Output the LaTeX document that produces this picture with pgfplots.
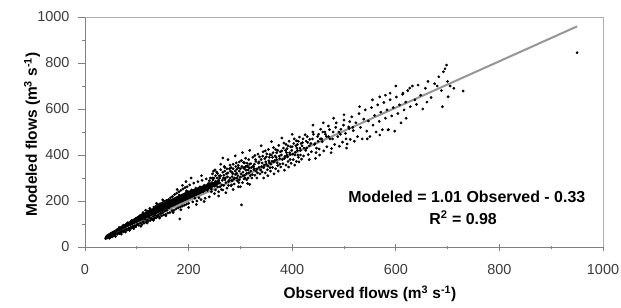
\documentclass[border=0pt]{standalone}
\usepackage{pgfplots}
\pgfplotsset{compat=1.18}
\usepackage{pgfplotstable}
\usepackage{fontspec}
\setmainfont{Liberation Sans}
\definecolor{ticktext}{RGB}{60,60,60}
\definecolor{axisgray}{RGB}{128,128,128}
\definecolor{framegray}{RGB}{175,175,175}
\definecolor{linegray}{RGB}{150,150,150}

\pgfplotstableread{
x y
40 36
42 47
43 40
45 52
46 44
47 38
48 55
50 49
51 60
52 44
53 57
55 48
56 63
57 52
58 66
59 46
60 58
41 42
44 50
49 42
54 64
58 55
61 70
62 55
63 77
64 62
65 74
66 58
67 82
68 66
69 78
70 61
71 88
72 70
73 83
74 66
75 92
76 73
77 86
78 70
79 97
80 78
81 100
82 74
83 94
84 80
85 104
86 78
87 98
88 84
89 110
90 82
91 102
92 90
93 114
94 86
95 106
96 92
97 118
98 88
99 110
100 96
66 85
74 95
82 105
90 115
98 124
70 56
78 65
86 72
94 80
101 124
102 100
103 130
104 94
105 118
106 136
107 104
108 126
109 140
110 98
111 132
112 110
113 146
114 104
115 138
116 120
117 160
118 108
119 142
120 118
121 156
122 112
123 148
124 128
125 168
126 116
127 150
128 124
129 162
130 120
131 156
132 132
133 174
134 124
135 160
136 138
137 178
138 128
139 166
140 134
141 184
142 140
143 170
144 130
145 188
146 146
147 176
148 136
149 192
150 150
151 172
152 140
153 198
154 156
155 184
156 142
157 202
158 160
159 180
160 148
112 150
125 160
138 190
150 205
108 90
120 104
132 116
144 126
156 136
142 158
128 142
183 122
161 206
162 170
163 192
164 150
165 214
166 178
167 196
168 158
169 220
170 182
171 200
172 160
173 228
174 186
175 206
176 166
177 234
178 192
179 212
180 170
181 240
182 198
183 216
184 174
185 246
186 202
187 224
188 178
189 252
190 206
191 228
192 182
193 258
194 212
195 236
196 186
197 262
198 216
199 240
200 190
202 270
204 222
206 248
208 196
210 278
212 228
214 256
216 200
218 284
220 234
222 262
224 206
226 290
228 240
230 268
232 212
234 296
236 246
238 276
240 218
170 150
185 162
200 172
215 185
230 198
205 300
225 310
195 284
178 250
188 268
210 240
220 214
235 262
168 190
182 226
196 244
212 212
226 252
240 288
242 300
244 252
246 318
248 270
250 232
252 286
254 326
256 262
258 240
260 300
262 336
264 270
266 248
268 312
270 346
272 280
274 256
276 322
278 290
280 356
282 266
284 306
286 340
288 274
290 316
292 366
294 288
296 262
298 330
300 304
302 376
304 280
306 344
308 312
310 386
312 292
314 352
316 322
318 272
320 362
245 280
255 300
265 290
275 305
285 318
295 310
305 325
315 335
250 265
260 278
270 292
280 300
290 330
300 340
310 350
320 330
248 330
262 360
276 380
290 396
304 410
318 420
258 222
272 236
286 250
300 262
314 276
252 248
268 268
284 288
298 292
312 320
243 262
257 285
271 300
287 296
301 318
317 344
266 325
282 345
296 355
308 366
252 310
270 330
266 387
251 335
302 183
241 276
247 292
253 270
259 310
263 250
267 300
273 318
277 268
281 330
283 290
289 300
293 338
297 280
303 350
307 296
311 334
313 364
319 310
244 240
256 320
269 350
279 340
291 350
306 368
316 380
249 300
261 262
277 285
293 320
309 300
322 300
324 390
326 336
328 312
330 372
332 300
334 404
336 346
338 318
340 380
342 326
344 414
346 356
348 322
350 392
352 336
354 424
356 366
358 330
360 400
362 346
364 432
366 376
368 340
370 410
372 354
374 442
376 384
378 348
380 418
382 362
384 452
386 394
388 356
390 428
392 372
394 460
396 402
398 364
400 436
402 380
404 470
406 412
408 372
410 446
412 390
414 478
416 420
418 382
420 454
325 350
335 365
345 345
355 375
365 370
375 395
385 385
395 410
405 400
415 430
330 330
350 360
370 380
390 400
410 420
340 440
360 458
380 474
400 490
345 300
365 318
385 334
405 356
328 398
348 418
368 424
388 446
408 462
321 345
327 360
333 322
337 392
341 350
347 384
353 352
357 402
361 372
367 396
371 366
377 414
381 380
387 420
391 392
397 436
401 404
407 440
411 400
417 450
423 430
427 460
433 440
439 470
444 450
451 490
457 470
463 500
323 315
339 335
353 310
373 330
393 348
413 370
433 380
453 400
324 350
329 380
332 340
336 370
343 395
349 370
351 405
356 390
359 360
363 410
369 390
372 420
376 360
379 400
383 430
389 410
392 440
396 380
399 420
403 450
409 430
412 460
416 400
419 440
421 470
426 420
429 480
436 450
441 490
447 430
454 470
459 500
466 480
472 510
478 470
484 520
493 490
499 530
504 470
511 545
517 520
262 310
274 340
286 360
298 370
308 340
318 360
246 300
258 290
284 325
296 345
313 350
283 270
293 300
305 310
315 300
327 340
342 365
357 345
362 390
422 396
425 488
428 430
431 402
434 468
437 414
440 500
443 446
446 410
449 480
452 426
455 512
458 458
461 418
464 490
467 436
470 526
473 470
476 428
479 500
482 446
485 540
488 480
491 438
494 512
497 456
500 552
503 494
506 448
509 522
512 468
515 566
518 506
520 460
430 455
450 460
470 480
490 500
510 515
440 530
460 540
480 560
500 575
445 385
475 410
505 430
523 540
526 480
529 580
532 520
535 470
538 556
541 596
544 504
547 548
550 480
553 606
556 530
559 572
562 500
565 618
568 546
571 586
574 510
577 628
580 560
583 596
586 510
589 640
592 570
595 606
598 504
601 652
604 580
607 618
610 540
613 664
616 596
619 630
530 610
555 640
580 660
600 700
585 509
569 487
545 470
620 560
569 653
589 669
614 669
627 691
623 680
628 610
632 700
637 640
643 704
648 660
652 600
657 690
662 720
668 650
675 710
683 740
688 680
692 762
695 775
698 791
701 653
705 700
712 690
730 678
640 620
660 630
680 700
700 720
690 610
950 845
}\flows

\begin{document}
\begin{tikzpicture}
\path[use as bounding box] (-85bp,-61bp) rectangle (536bp,247bp);
\begin{axis}[
  at={(0,0)}, anchor=south west,
  scale only axis,
  width=518bp, height=230bp,
  xmin=0, xmax=1000, ymin=0, ymax=1000,
  axis x line*=bottom, axis y line*=left,
  axis line style={axisgray, line width=1pt},
  xtick={0,200,...,1000}, ytick={0,200,...,1000},
  minor xtick={100,300,...,900}, minor ytick={100,300,...,900},
  x tick style={axisgray, line width=0.8pt},
  y tick style={axisgray, line width=0.8pt},
  xtick align=center, ytick align=outside,
  major tick length=7bp, minor tick length=3bp,
  every minor tick/.append style={line width=0.6pt},
  tick label style={font=\fontsize{14.5}{16}\selectfont, text=ticktext},
  /pgf/number format/assume math mode=true,
  /pgf/number format/1000 sep={},
  xticklabel style={yshift=-10bp},
  yticklabel style={xshift=-5bp},
  xlabel={\textbf{Observed flows (m\textsuperscript{3} s\textsuperscript{-1})}},
  ylabel={\textbf{Modeled flows (m\textsuperscript{3} s\textsuperscript{-1})}},
  label style={font=\fontsize{15.5}{17}\selectfont},
  x label style={at={(axis description cs:0.55,-0.204)}, anchor=center},
  y label style={at={(axis description cs:-0.102,0.489)}, anchor=center},
  clip=false,
]
\draw[framegray, line width=0.8pt] (rel axis cs:0,1) -- (rel axis cs:1,1) -- (rel axis cs:1,0);
\addplot[fill=black, draw=none] coordinates {
 (38,42) (45,58) (60,78) (80,104) (100,132) (120,156) (140,180) (160,202) (180,224) (200,244) (230,270) (260,290)
 (260,275) (230,238) (200,204) (180,182) (160,160) (140,138) (120,116) (100,94) (80,74) (60,55) (45,41) (38,34)
} -- cycle;
\addplot[only marks, mark=*, mark size=1.2bp, mark options={fill=black, draw=none}] table {\flows};
\addplot[linegray, line width=2bp] coordinates {(40,40.07) (950,959.17)};
\node[font=\fontsize{16}{18}\selectfont\bfseries] at (axis cs:737,217) {Modeled = 1.01 Observed - 0.33};
\node[font=\fontsize{16}{18}\selectfont\bfseries] at (axis cs:730,126) {R\textsuperscript{2} = 0.98};
\end{axis}
\end{tikzpicture}
\end{document}
